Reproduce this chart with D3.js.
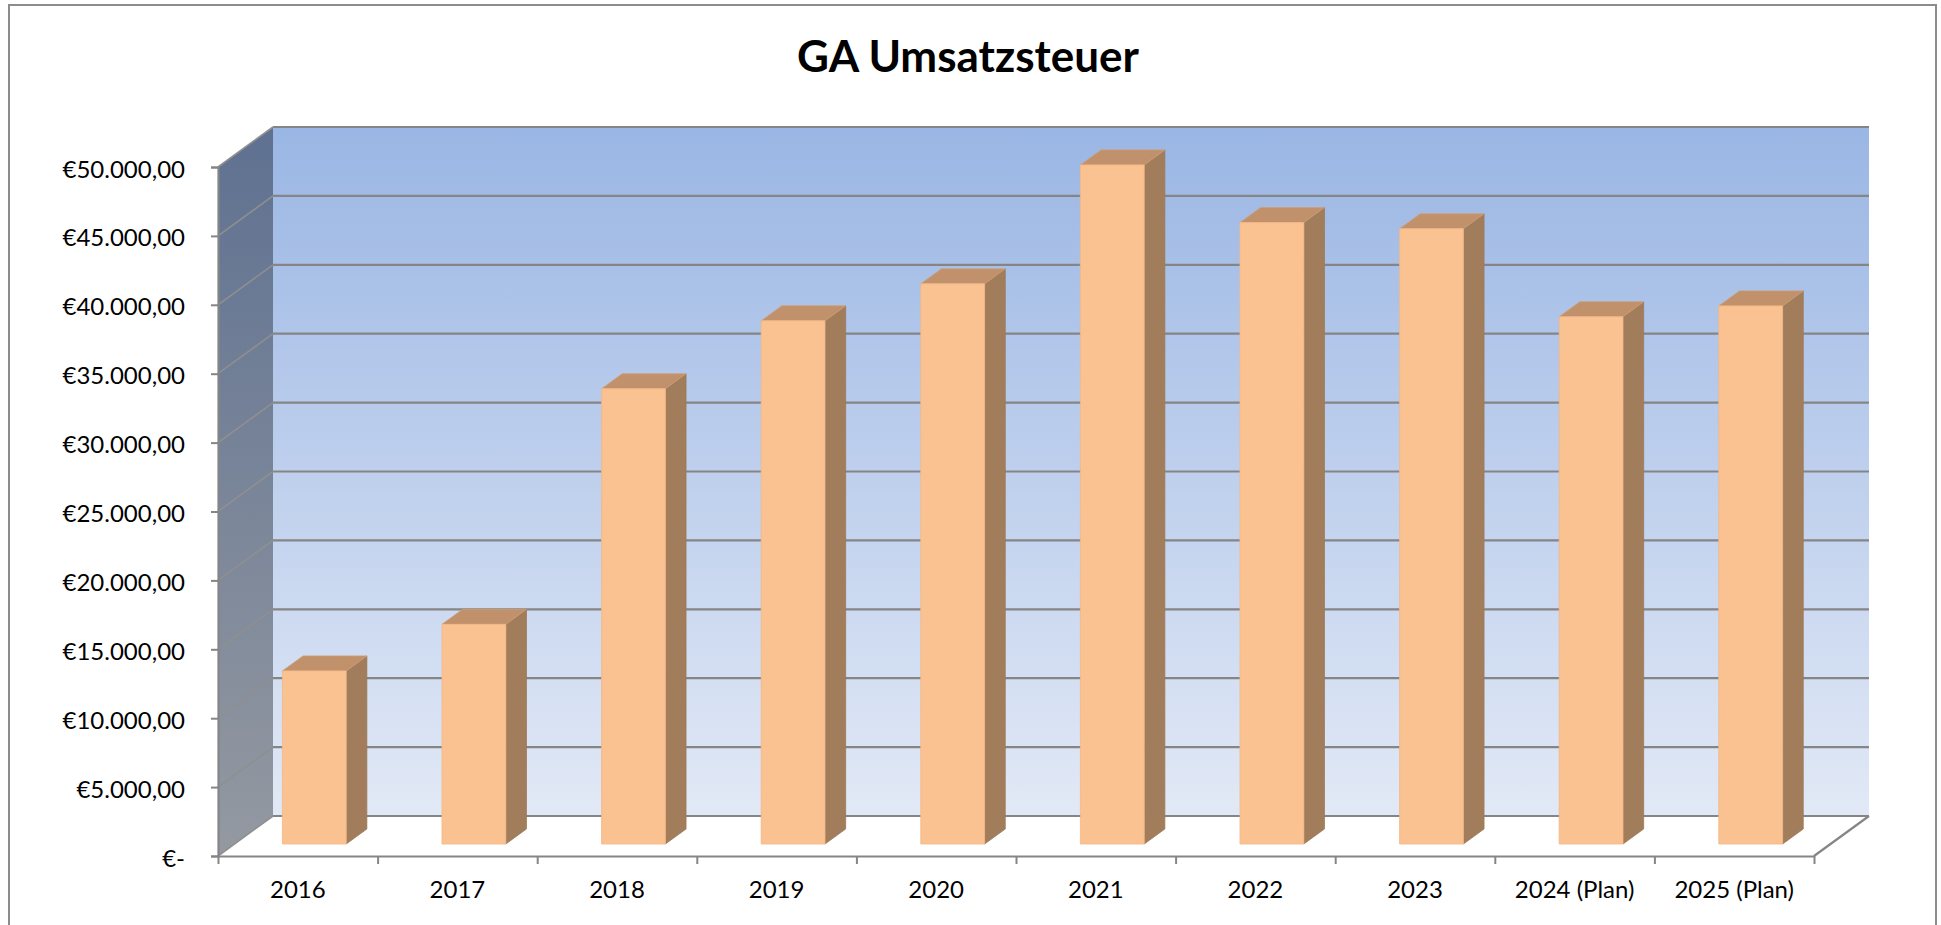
<!DOCTYPE html>
<html>
<head>
<meta charset="utf-8">
<script src="https://cdn.jsdelivr.net/npm/d3@7"></script>
<style>
  html, body { margin: 0; padding: 0; background: #fff; }
  svg { display: block; }
  text { font-family: Lato, "Open Sans", sans-serif; }
</style>
</head>
<body>
<svg id="chart" width="1941" height="925"></svg>
<script>
// ---- data ----
const title = "GA Umsatzsteuer";
const categories = ["2016", "2017", "2018", "2019", "2020", "2021", "2022", "2023", "2024 (Plan)", "2025 (Plan)"];
const values = [12560, 15940, 33040, 37970, 40650, 49280, 45100, 44650, 38260, 39050];
const yTickValues = [0, 5000, 10000, 15000, 20000, 25000, 30000, 35000, 40000, 45000, 50000];
const yDomain = [0, 50000];

// ---- layout ----
const svg = d3.select("#chart");
const X0 = 218, X1 = 1814;          // front plane of the floor
const YB = 856, YT = 167;            // front plane value range
const DX = 55, DY = 40;              // depth offset (back wall)
const D1 = 0.3, D2 = 0.675;          // bar depth span (fraction)

const y = d3.scaleLinear().domain(yDomain).range([YB, YT]);
const x = d3.scaleBand().domain(categories).range([X0, X1]).paddingInner(0.6).paddingOuter(0.3);
const xIdx = d3.scaleLinear().domain([0, categories.length]).range([X0, X1]);

const loc = d3.formatLocale({decimal: ",", thousands: ".", grouping: [3], currency: ["€", ""]});
const fmt = loc.format("$,.2f");
const yFmt = v => v === 0 ? "€-" : fmt(v);

const defs = svg.append("defs");
const gBack = defs.append("linearGradient").attr("id", "gBack").attr("x1", 0).attr("y1", 0).attr("x2", 0).attr("y2", 1);
gBack.append("stop").attr("offset", "0%").attr("stop-color", "#9ab6e4");
gBack.append("stop").attr("offset", "100%").attr("stop-color", "#e2e9f6");
const gSide = defs.append("linearGradient").attr("id", "gSide").attr("x1", 0).attr("y1", 0).attr("x2", 0).attr("y2", 1);
gSide.append("stop").attr("offset", "0%").attr("stop-color", "#5f7191");
gSide.append("stop").attr("offset", "100%").attr("stop-color", "#9499a1");

// outer border
svg.append("rect").attr("x", 9).attr("y", 5).attr("width", 1927).attr("height", 940)
  .attr("fill", "#fff").attr("stroke", "#8c8c8c").attr("stroke-width", 2);

// title
svg.append("text").attr("x", 968).attr("y", 72).attr("text-anchor", "middle")
  .attr("font-size", 44).attr("font-weight", 700).attr("fill", "#000").text(title);

const pt = (px, v, d) => [px + DX * d, y(v) - DY * d];
const poly = pts => pts.map(p => p.join(",")).join(" ");

// back wall
svg.append("polygon")
  .attr("points", poly([pt(X0, yDomain[1], 1), pt(X1, yDomain[1], 1), pt(X1, 0, 1), pt(X0, 0, 1)]))
  .attr("fill", "url(#gBack)");
// left side wall
svg.append("polygon")
  .attr("points", poly([pt(X0, yDomain[1], 0), pt(X0, yDomain[1], 1), pt(X0, 0, 1), pt(X0, 0, 0)]))
  .attr("fill", "url(#gSide)");
// floor
svg.append("polygon")
  .attr("points", poly([pt(X0, 0, 0), pt(X0, 0, 1), pt(X1, 0, 1), pt(X1, 0, 0)]))
  .attr("fill", "#ffffff");

// gridlines on back wall and side wall
const grid = svg.append("g").attr("stroke", "#858585").attr("stroke-width", 2.2).attr("fill", "none");
grid.selectAll("line.back").data(yTickValues).join("line").attr("class", "back")
  .attr("x1", d => pt(X0, d, 1)[0]).attr("y1", d => pt(X0, d, 1)[1])
  .attr("x2", d => pt(X1, d, 1)[0]).attr("y2", d => pt(X1, d, 1)[1]);
grid.selectAll("line.side").data(yTickValues).join("line").attr("class", "side")
  .attr("stroke", "#8f8f8f").attr("stroke-width", 1.6)
  .attr("x1", d => pt(X0, d, 0)[0]).attr("y1", d => pt(X0, d, 0)[1])
  .attr("x2", d => pt(X0, d, 1)[0]).attr("y2", d => pt(X0, d, 1)[1]);
// floor right edge
grid.append("line")
  .attr("x1", pt(X1, 0, 0)[0]).attr("y1", pt(X1, 0, 0)[1])
  .attr("x2", pt(X1, 0, 1)[0]).attr("y2", pt(X1, 0, 1)[1]);

// y axis
const yAxis = svg.append("g").attr("transform", `translate(${X0},0)`)
  .call(d3.axisLeft(y).tickValues(yTickValues).tickFormat(yFmt).tickSize(7).tickPadding(26));
yAxis.select(".domain").attr("stroke", "#858585").attr("stroke-width", 2.2);
yAxis.selectAll(".tick line").attr("stroke", "#858585").attr("stroke-width", 2);
yAxis.selectAll(".tick text").attr("font-size", 24).attr("fill", "#000").attr("dy", "0.42em")
  .attr("font-family", "Lato, 'Open Sans', sans-serif");

// x axis boundary ticks
const xTicks = svg.append("g").attr("transform", `translate(0,${YB})`)
  .call(d3.axisBottom(xIdx).tickValues(d3.range(categories.length + 1)).tickFormat("").tickSize(8).tickSizeOuter(0));
xTicks.select(".domain").attr("stroke", "#858585").attr("stroke-width", 2.2);
xTicks.selectAll(".tick line").attr("stroke", "#858585").attr("stroke-width", 2);

// x axis labels at band centres
const xLab = svg.append("g").attr("transform", `translate(0,${YB})`)
  .call(d3.axisBottom(x).tickSize(0).tickPadding(25));
xLab.select(".domain").remove();
xLab.selectAll(".tick text").attr("font-size", 24).attr("fill", "#000")
  .attr("font-family", "Lato, 'Open Sans', sans-serif");

// bars
const bars = svg.append("g");
const bw = x.bandwidth();
categories.forEach((c, i) => {
  const v = values[i];
  const xl = x(c);
  const fL = pt(xl, v, D1), fR = pt(xl + bw, v, D1);
  const bL = pt(xl, 0, D1), bR = pt(xl + bw, 0, D1);
  const tL = pt(xl, v, D2), tR = pt(xl + bw, v, D2);
  const sB = pt(xl + bw, 0, D2);
  const g = bars.append("g");
  g.append("polygon").attr("points", poly([fR, tR, sB, bR]))
    .attr("fill", "#a27d5b").attr("stroke", "#9c7856").attr("stroke-width", 0.8);
  g.append("polygon").attr("points", poly([fL, fR, tR, tL]))
    .attr("fill", "#c0916b").attr("stroke", "#cf9e76").attr("stroke-width", 0.8);
  g.append("polygon").attr("points", poly([fL, fR, bR, bL]))
    .attr("fill", "#fac191").attr("stroke", "#f2b888").attr("stroke-width", 0.8);
});
</script>
</body>
</html>
